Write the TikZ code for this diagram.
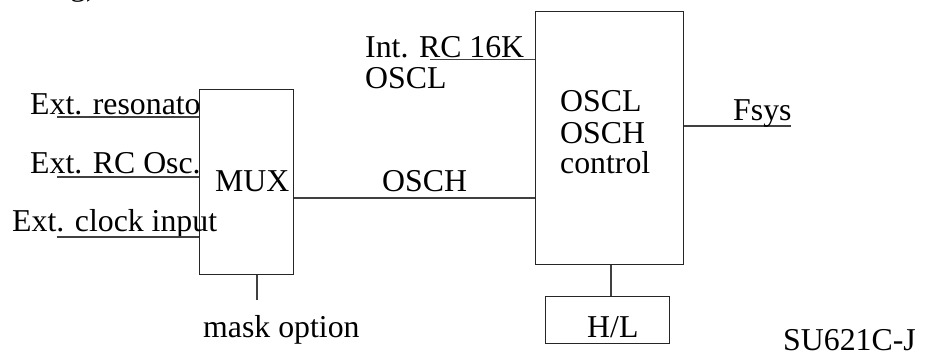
\documentclass[tikz,border=0pt]{standalone}
\usepackage{fontspec}
\setmainfont{Liberation Serif}
\begin{document}
\begin{tikzpicture}[x=1pt,y=-1pt,
  box/.style={draw=black!85, line width=1.2pt, inner sep=0pt, anchor=north west},
  lbl/.style={inner sep=0pt, anchor=base west, font=\fontsize{31.8}{34}\selectfont},
  wire/.style={line width=1.2pt, draw=black!75}]
\useasboundingbox (0,0) rectangle (926,355);
\clip (0,0) rectangle (926,355);
% boxes
\node[box, minimum width=94pt, minimum height=185pt] (mux) at (199,89) {};
\node[box, minimum width=148pt, minimum height=253pt] (osc) at (535,11) {};
\node[box, minimum width=124pt, minimum height=47pt] (hl) at (545,296) {};
% clipped fragment at top
\node[lbl] (frag) at (70,-4) {g)};
% input labels
\node[lbl] (t1) at (30,115) {Ext. resonato};
\node[lbl] (t2) at (30,174) {Ext. RC Osc.};
\node[lbl] (t3) at (12,232) {Ext. clock input};
\coordinate (i1) at (57,117);
\coordinate (i2) at (57,177);
\coordinate (i3) at (57,237);
\draw[wire] (i1) -- (i1 -| mux.west);
\draw[wire] (i2) -- (i2 -| mux.west);
\draw[wire] (i3) -- (i3 -| mux.west);
\node[lbl] (muxt) at (215,192) {MUX};
% mask option
\coordinate (m1) at (257,300);
\draw[wire] (m1 |- mux.south) -- (m1);
\node[lbl] (mask) at (203,337) {mask option};
% OSCH
\coordinate (oy) at (400,198);
\draw[wire] (mux.east |- oy) -- (osc.west |- oy);
\node[lbl] (osch) at (382,192) {OSCH};
% Int RC
\node[lbl] (irc) at (365,58) {Int. RC 16K};
\node[lbl] (oscl) at (365,89) {OSCL};
\coordinate (r1) at (430,59.5);
\draw[wire] (r1) -- (r1 -| osc.west);
% OSC box text
\node[lbl] (c1) at (560,112) {OSCL};
\node[lbl] (c2) at (560,144) {OSCH};
\node[lbl] (c3) at (560,174) {control};
% Fsys
\coordinate (f1) at (791,126);
\draw[wire] (f1 -| osc.east) -- (f1);
\node[lbl] (fsys) at (733,121) {Fsys};
% H/L
\coordinate (h1) at (611,280);
\draw[wire] (h1 |- osc.south) -- (h1 |- hl.north);
\node[lbl] (hlt) at (587,337) {H/L};
% label
\node[lbl] (su) at (783,350) {SU621C-J};
\end{tikzpicture}
\end{document}
